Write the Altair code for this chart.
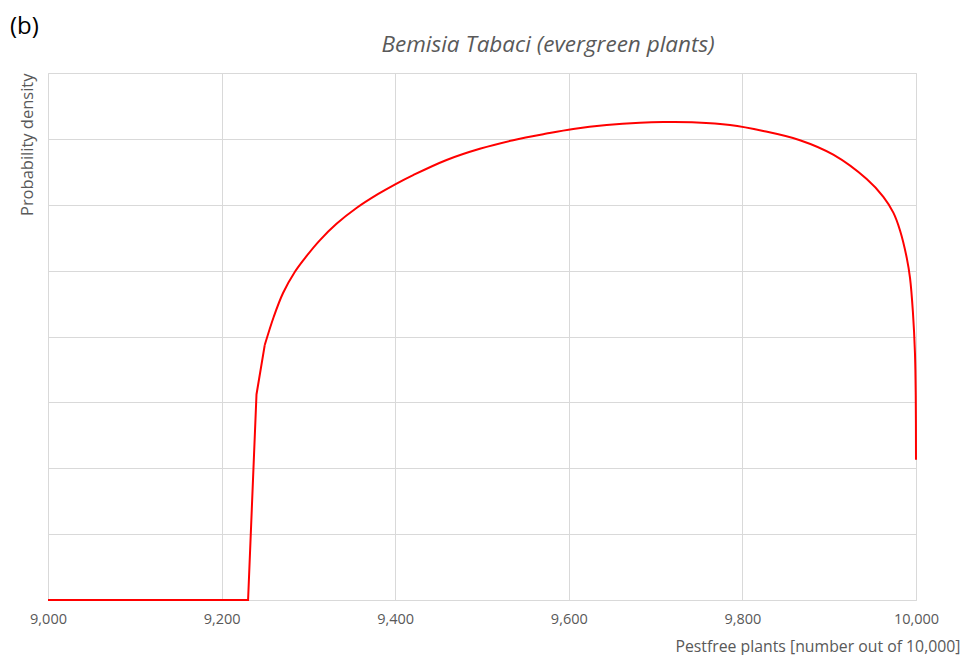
import altair as alt
import pandas as pd

# Curve (x = pestfree plants, y = density in grid units 0..8)
xs = [9000, 9230.5, 9240.2, 9249.7, 9260.1, 9270.8, 9284.3, 9297.8, 9313.1, 9332.4,
      9355.4, 9380.0, 9400.0, 9420.7, 9459.2, 9497.5, 9535.9, 9574.4, 9605.1, 9643.6,
      9682.0, 9708.8, 9747.3, 9785.7, 9824.0, 9866.3, 9904.7, 9943.2, 9962.4, 9973.9,
      9981.6, 9989.4, 9993.1, 9996.4, 9998.8, 9999.7, 10000.0]
ys = [0, 0, 3.12, 3.87, 4.30, 4.66, 4.98, 5.22, 5.46, 5.71,
      5.95, 6.16, 6.31, 6.45, 6.68, 6.85, 6.98, 7.08, 7.15, 7.21,
      7.245, 7.255, 7.25, 7.21, 7.12, 6.98, 6.76, 6.39, 6.12, 5.88,
      5.61, 5.19, 4.89, 4.38, 3.75, 3.10, 2.13]

x_ticks = [9000, 9200, 9400, 9600, 9800, 10000]
y_grid = [0, 1, 2, 3, 4, 5, 6, 7, 8]

df = pd.DataFrame({"x": xs, "y": ys})

grey = "#595959"
gridc = "#d9d9d9"
font = "Open Sans"

x_enc = alt.X("x:Q",
              scale=alt.Scale(domain=[9000, 10000], nice=False, zero=False),
              axis=alt.Axis(values=x_ticks, format=",d", title="Pestfree plants [number out of 10,000]",
                            grid=True, gridColor=gridc, domain=False, ticks=False,
                            labelColor=grey, labelFontSize=14.5, labelFont=font, labelPadding=12,
                            labelFlush=False,
                            titleColor=grey, titleFontSize=15.8, titleFont=font, titleFontWeight="normal",
                            titleAnchor="end", titleAlign="right", titleX=912, titleY=51,
                            titleBaseline="alphabetic"))
y_enc = alt.Y("y:Q",
              scale=alt.Scale(domain=[0, 8], nice=False),
              axis=alt.Axis(values=y_grid, labels=False, ticks=False, domain=False,
                            grid=True, gridColor=gridc,
                            title="Probability density", titleColor=grey, titleFontSize=16.5,
                            titleFont=font, titleFontWeight="normal",
                            titleAnchor="end", titleAlign="right", titleAngle=270,
                            titleX=-16, titleY=0, titleBaseline="alphabetic"))

base = alt.Chart(df).encode(x=x_enc, y=y_enc)

# sharp start of the rise (linear), smooth curve afterwards
rise = base.transform_filter(alt.datum.x <= 9250).mark_line(
    color="#ff0000", strokeWidth=2, interpolate="linear")
body = base.transform_filter(alt.datum.x >= 9249).mark_line(
    color="#ff0000", strokeWidth=2, interpolate="catmull-rom")

label_df = pd.DataFrame({"t": ["(b)"]})
label = alt.Chart(label_df).mark_text(
    text="(b)", fontSize=24, font=font, color="#000000", align="left", baseline="alphabetic"
).encode(x=alt.value(-38), y=alt.value(-39))

title = alt.Chart(label_df).mark_text(
    text="Bemisia Tabaci (evergreen plants)", fontSize=22.5, font=font, fontStyle="italic",
    color=grey, align="center", baseline="alphabetic"
).encode(x=alt.value(500), y=alt.value(-21))

chart = alt.layer(rise, body, label, title).properties(
    width=868,
    height=527,
    autosize=alt.AutoSizeParams(type="none"),
    padding={"left": 40, "top": 65, "right": 44, "bottom": 55},
).configure_view(stroke=None).configure(background="white")

chart.save("out.html", embed_options={"renderer": "svg", "actions": False})
